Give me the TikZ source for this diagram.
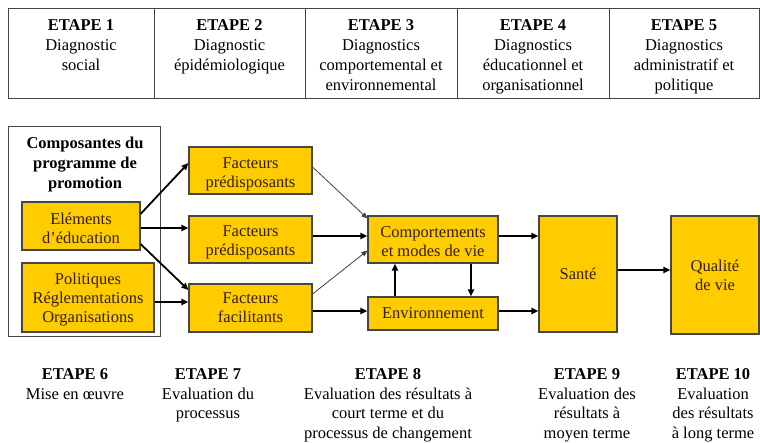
\documentclass[tikz,border=0pt]{standalone}
\usepackage{fontspec}
\setmainfont{Liberation Serif}
\usetikzlibrary{arrows.meta}
\definecolor{gold}{RGB}{255,204,0}
\definecolor{boxtxt}{RGB}{50,30,0}
\definecolor{edgecol}{RGB}{70,70,70}
\begin{document}
\begin{tikzpicture}[x=1pt,y=-1pt,
  every node/.style={font=\fontsize{16.5}{20}\selectfont, inner sep=0pt, align=center},
  gbox/.style={draw=edgecol, line width=1.1pt, fill=gold, text=boxtxt, font=\fontsize{16.5}{19}\selectfont},
  txt/.style={anchor=north, text=black},
  bottxt/.style={anchor=north, text=black, font=\fontsize{16.5}{19.5}\selectfont},
  bigarrow/.style={-{Triangle[length=7pt,width=6pt]}, line width=1.8pt, draw=black},
  smallarrow/.style={-{Triangle[length=6pt,width=5pt]}, line width=0.8pt, draw=black!75}
]
\useasboundingbox (0,0) rectangle (760,443);

% top table
\draw[draw=edgecol, line width=1pt] (8,9) rectangle (759,99);
\foreach \xx in {154,305,457,609} \draw[draw=edgecol, line width=1pt] (\xx,9) -- (\xx,99);
\node[txt] (e1) at (81,19) {\textbf{ETAPE 1}\\Diagnostic\\social};
\node[txt] (e2) at (229.5,19) {\textbf{ETAPE 2}\\Diagnostic\\épidémiologique};
\node[txt] (e3) at (381,19) {\textbf{ETAPE 3}\\Diagnostics\\comportemental et\\environnemental};
\node[txt] (e4) at (533,19) {\textbf{ETAPE 4}\\Diagnostics\\éducationnel et\\organisationnel};
\node[txt] (e5) at (684,19) {\textbf{ETAPE 5}\\Diagnostics\\administratif et\\politique};

% program components frame
\node[draw=edgecol, line width=1pt, minimum width=152pt, minimum height=210pt] (comp) at (84,232) {};
\node[txt] (title) at (85,136.7) {\textbf{Composantes du}\\\textbf{programme de}\\\textbf{promotion}};

% boxes
\node[gbox, minimum width=118pt, minimum height=48pt] (elem) at (81,226) {\rule{0pt}{16pt}Eléments\\d’éducation};
\node[gbox, minimum width=132pt, minimum height=69pt] (poli) at (88,297.5) {\rule{0pt}{16.5pt}Politiques\\Réglementations\\Organisations};
\node[gbox, minimum width=123pt, minimum height=47pt] (f1) at (250.5,170.5) {\rule{0pt}{19.3pt}Facteurs\\prédisposants};
\node[gbox, minimum width=123pt, minimum height=47pt] (f2) at (250.5,239.5) {\rule{0pt}{16.3pt}Facteurs\\prédisposants};
\node[gbox, minimum width=123pt, minimum height=48pt] (f3) at (250.5,308) {Facteurs\\facilitants};
\node[gbox, minimum width=130pt, minimum height=47pt] (comport) at (433,239.5) {\rule{0pt}{15.3pt}Comportements\\et modes de vie};
\node[gbox, minimum width=130pt, minimum height=33pt] (env) at (433,313.5) {Environnement};
\node[gbox, minimum width=78pt, minimum height=116pt] (sante) at (578,274) {Santé};
\node[gbox, minimum width=88pt, minimum height=118pt] (qual) at (715,275) {Qualité\\de vie};

% arrows
\draw[bigarrow] ([yshift=12pt]elem.east) -- ([yshift=7.5pt]f1.west);
\draw[bigarrow] ([yshift=-2pt]elem.east) -- ([yshift=-2pt]elem.east -| f2.west);
\draw[bigarrow] ([yshift=-18pt]elem.east) -- ([yshift=18pt]f3.west);
\draw[bigarrow] ([yshift=-4.5pt]poli.east) -- ([yshift=-4.5pt]poli.east -| f3.west);
\draw[smallarrow] ([yshift=3.5pt]f1.east) -- ([yshift=-3pt]comport.north west);
\draw[bigarrow] ([yshift=3.5pt]f2.east) -- ([yshift=3.5pt]f2.east -| comport.west);
\draw[smallarrow] ([yshift=14pt]f3.east) -- ([yshift=13pt]comport.south west);
\draw[bigarrow] ([yshift=-3pt]f3.east) -- ([yshift=-3pt]f3.east -| env.west);
\draw[bigarrow] ([yshift=3.5pt]comport.east) -- ([yshift=3.5pt]comport.east -| sante.west);
\draw[bigarrow] ([yshift=2.5pt]env.east) -- ([yshift=2.5pt]env.east -| sante.west);
\draw[bigarrow] ([xshift=-38pt]env.north) -- ([xshift=-38pt]comport.south);
\draw[bigarrow] ([xshift=38pt]comport.south) -- ([xshift=38pt]env.north);
\draw[bigarrow] ([yshift=4pt]sante.east) -- ([yshift=4pt]sante.east -| qual.west);

% bottom steps
\node[bottxt] (e6) at (75,368.5) {\textbf{ETAPE 6}\\Mise en œuvre};
\node[bottxt] (e7) at (208,368.5) {\textbf{ETAPE 7}\\Evaluation du\\processus};
\node[bottxt] (e8) at (388,368.5) {\textbf{ETAPE 8}\\Evaluation des résultats à\\court terme et du\\processus de changement};
\node[bottxt] (e9) at (587,368.5) {\textbf{ETAPE 9}\\Evaluation des\\résultats à\\moyen terme};
\node[bottxt] (e10) at (713,368.5) {\textbf{ETAPE 10}\\Evaluation\\des résultats\\à long terme};
\end{tikzpicture}
\end{document}
